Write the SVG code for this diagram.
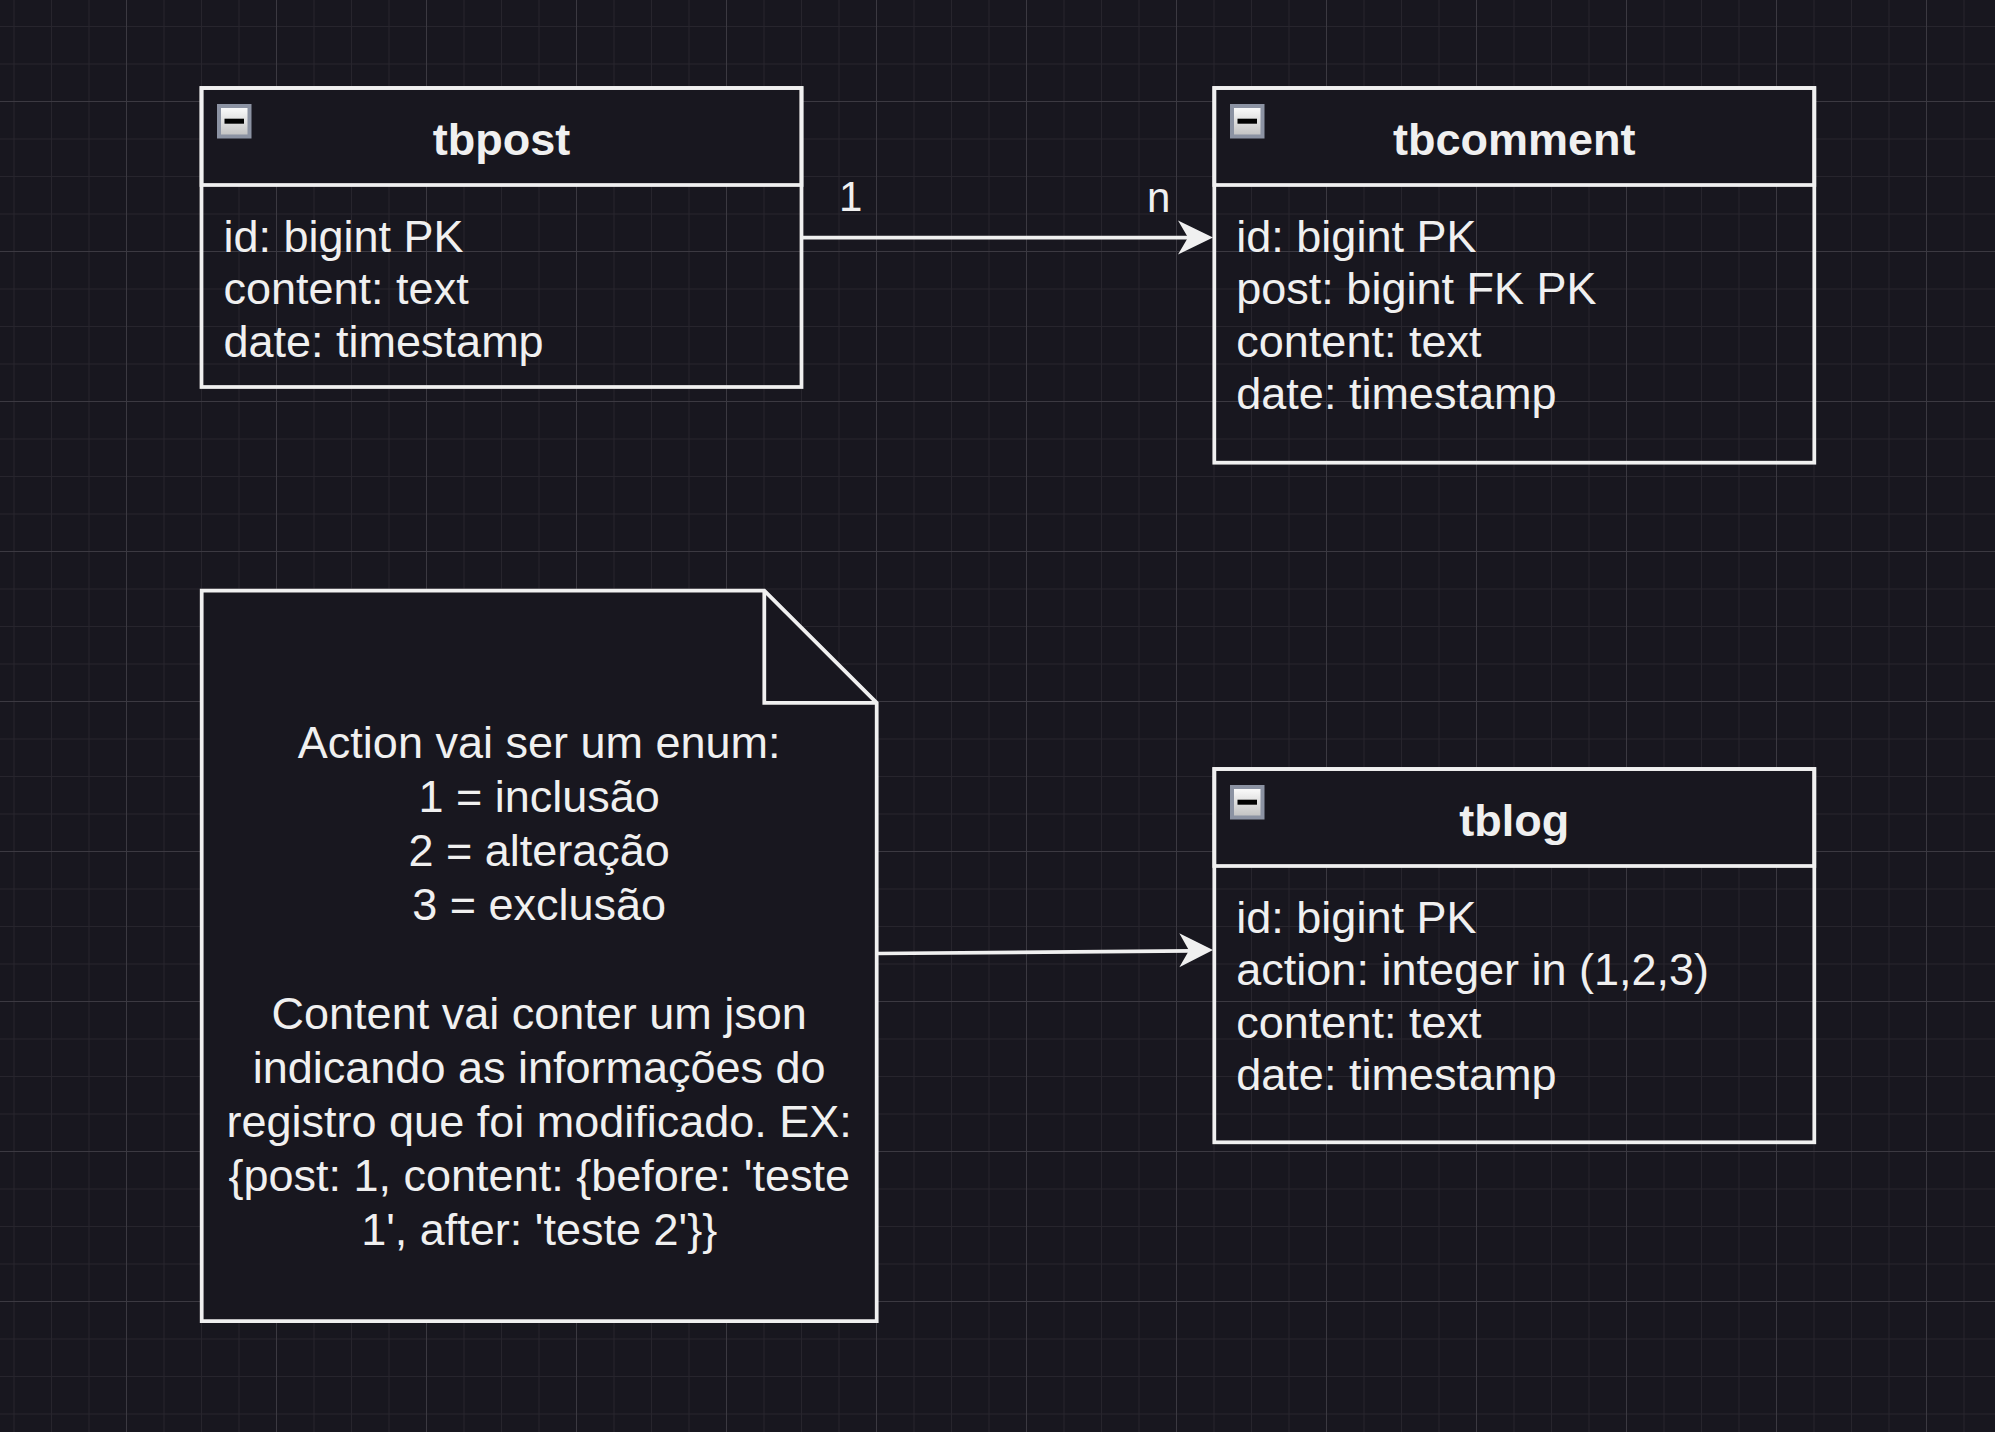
<svg xmlns="http://www.w3.org/2000/svg" width="1995" height="1432" viewBox="0 0 1995 1432">
  <defs>
    <pattern id="grid" patternUnits="userSpaceOnUse" x="126" y="101" width="150" height="150">
      <rect width="150" height="150" fill="#18171f"/>
      <g fill="#27252d">
        <rect x="37.5" y="0" width="1" height="150"/>
        <rect x="75" y="0" width="1" height="150"/>
        <rect x="112.5" y="0" width="1" height="150"/>
        <rect x="0" y="37.5" width="150" height="1"/>
        <rect x="0" y="75" width="150" height="1"/>
        <rect x="0" y="112.5" width="150" height="1"/>
      </g>
      <g fill="#3b3941">
        <rect x="0" y="0" width="1" height="150"/>
        <rect x="0" y="0" width="150" height="1"/>
      </g>
    </pattern>
    <linearGradient id="btnGrad" x1="0" y1="0" x2="0" y2="1">
      <stop offset="0" stop-color="#fafafa"/>
      <stop offset="1" stop-color="#c4c4c4"/>
    </linearGradient>
    <g id="minus">
      <rect x="0" y="0" width="34.5" height="34.5" fill="#8c93a3"/>
      <rect x="4" y="4" width="26.5" height="26.5" fill="url(#btnGrad)"/>
      <rect x="7.5" y="14.7" width="19.5" height="5" fill="#000"/>
    </g>
  </defs>
  <style>
    .box { fill: none; stroke: #f0f0f0; stroke-width: 3.75; }
    .hdr { fill: #18171f; stroke: #f0f0f0; stroke-width: 3.75; }
    .title { font-family: "Liberation Sans", Arial, sans-serif; font-size: 45px; font-weight: bold; fill: #f0f0f0; text-anchor: middle; }
    .attr { font-family: "Liberation Sans", Arial, sans-serif; font-size: 45px; fill: #f0f0f0; }
    .note { font-family: "Liberation Sans", Arial, sans-serif; font-size: 45px; fill: #f0f0f0; text-anchor: middle; }
    .lbl { font-family: "Liberation Sans", Arial, sans-serif; font-size: 42px; fill: #f0f0f0; }
    .edge { fill: none; stroke: #f0f0f0; stroke-width: 3.75; }
    .head { fill: #f0f0f0; stroke: none; }
  </style>
  <rect x="0" y="0" width="1995" height="1432" fill="url(#grid)"/>

  <g id="connectors">
    <g id="edge-post-comment">
      <path class="edge" d="M801.5,237.5 L1190,237.5"/>
      <polygon class="head" points="1213,237.5 1178,220.5 1188,237.5 1178,254.5"/>
      <text class="lbl" x="839" y="211">1</text>
      <text class="lbl" x="1147" y="212">n</text>
    </g>
    <g id="edge-note-log">
      <path class="edge" d="M876.7,953.5 L1191,950.9"/>
      <polygon class="head" points="1213,950 1179.3,933.3 1189,950.6 1179.3,967.3"/>
    </g>
  </g>

  <g id="tbpost">
    <rect class="hdr" x="201.5" y="88" width="600" height="97"/>
    <rect class="box" x="201.5" y="88" width="600" height="299"/>
    <use href="#minus" x="217" y="104"/>
    <text class="title" x="501.5" y="154.5">tbpost</text>
    <text class="attr" x="223.5" y="252">id: bigint PK</text>
    <text class="attr" x="223.5" y="304.4">content: text</text>
    <text class="attr" x="223.5" y="356.8">date: timestamp</text>
  </g>

  <g id="tbcomment">
    <rect class="hdr" x="1214.3" y="88" width="600" height="97"/>
    <rect class="box" x="1214.3" y="88" width="600" height="374.7"/>
    <use href="#minus" x="1230" y="104"/>
    <text class="title" x="1514.3" y="154.5">tbcomment</text>
    <text class="attr" x="1236.3" y="252">id: bigint PK</text>
    <text class="attr" x="1236.3" y="304.4">post: bigint FK PK</text>
    <text class="attr" x="1236.3" y="356.8">content: text</text>
    <text class="attr" x="1236.3" y="409.2">date: timestamp</text>
  </g>

  <g id="tblog">
    <rect class="hdr" x="1214.3" y="769" width="600" height="97"/>
    <rect class="box" x="1214.3" y="769" width="600" height="373.3"/>
    <use href="#minus" x="1230" y="785"/>
    <text class="title" x="1514.3" y="835.5">tblog</text>
    <text class="attr" x="1236.3" y="933">id: bigint PK</text>
    <text class="attr" x="1236.3" y="985.4">action: integer in (1,2,3)</text>
    <text class="attr" x="1236.3" y="1037.8">content: text</text>
    <text class="attr" x="1236.3" y="1090.2">date: timestamp</text>
  </g>

  <g id="note">
    <path class="hdr" d="M201.7,590.7 H764.3 L876.7,702.9 V1321 H201.7 Z"/>
    <path class="box" d="M764.3,590.7 V702.9 H876.7"/>
    <text class="note" x="539.2" y="757.5">Action vai ser um enum:</text>
    <text class="note" x="539.2" y="811.7">1 = inclusão</text>
    <text class="note" x="539.2" y="865.9">2 = alteração</text>
    <text class="note" x="539.2" y="920.1">3 = exclusão</text>
    <text class="note" x="539.2" y="1028.5">Content vai conter um json</text>
    <text class="note" x="539.2" y="1082.7">indicando as informações do</text>
    <text class="note" x="539.2" y="1136.9">registro que foi modificado. EX:</text>
    <text class="note" x="539.2" y="1191.1">{post: 1, content: {before: 'teste</text>
    <text class="note" x="539.2" y="1245.3">1', after: 'teste 2'}}</text>
  </g>
</svg>
